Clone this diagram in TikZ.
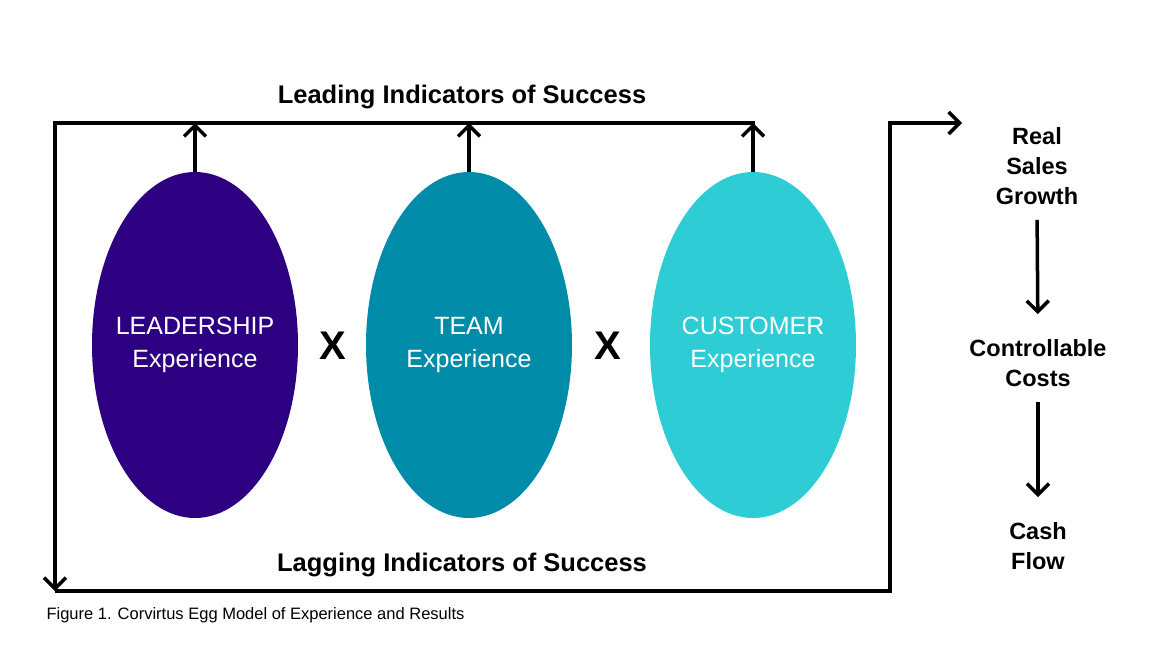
\documentclass[tikz,border=0pt]{standalone}
\usepackage{fontspec}
\setmainfont{Liberation Sans}
\usetikzlibrary{arrows.meta,shapes.geometric,positioning}

\definecolor{leadcol}{RGB}{45,0,130}
\definecolor{teamcol}{RGB}{0,140,168}
\definecolor{custcol}{RGB}{46,204,212}

\tikzset{
  egg/.style={ellipse, minimum width=206pt, minimum height=346pt, inner sep=-20pt,
    text=white, align=center, font=\fontsize{25}{33}\selectfont},
  loopline/.style={line width=3.5pt},
  flow/.style={line width=3.5pt, -{Straight Barb[length=11pt,width=22pt]}},
  result/.style={align=center, inner sep=0pt, font=\bfseries\fontsize{23.5}{30}\selectfont},
  headline/.style={font=\bfseries\fontsize{25.5}{30}\selectfont}
}

\begin{document}
\begin{tikzpicture}[x=1pt,y=-1pt]
\useasboundingbox (0,0) rectangle (1163,651);

% Eggs
\node[egg, fill=leadcol] (lead) at (195,345) {LEADERSHIP\\Experience};
\node[egg, fill=teamcol] (team) at (469,345) {TEAM\\Experience};
\node[egg, fill=custcol] (cust) at (753,345) {CUSTOMER\\Experience};

\node[font=\bfseries\fontsize{40}{40}\selectfont] (x1) at (333,346) {X};
\node[font=\bfseries\fontsize{40}{40}\selectfont] (x2) at (608,346) {X};

% Loop
\coordinate (tl) at (55,123);
\coordinate (bl) at (55,591);
\coordinate (br) at (890,591);
\coordinate (tr) at (890,123);
\coordinate (rt) at (962,123);
\draw[loopline, line cap=rect] (tl) -- (cust.north |- tl);
\draw[flow] (tl) -- (bl);
\draw[loopline] (bl) -- (br) -- (tr);
\draw[flow, line cap=rect] (tr) -- (rt);

% Leading arrows
\foreach \egg in {lead,team,cust}
  \draw[flow] (\egg.north) -- (\egg.north |- tl);

\node[headline] (leading) at (462,97) {Leading Indicators of Success};
\node[headline] (lagging) at (462,565) {Lagging Indicators of Success};

% Results
\node[result] (sales) at (1037,166) {Real\\Sales\\Growth};
\node[result] (costs) at (1038,363) {Controllable\\Costs};
\node[result] (cash) at (1038,546) {Cash\\Flow};
\draw[flow, shorten <=15pt, shorten >=25pt] (sales.south) -- (costs.north);
\draw[flow, shorten <=15pt, shorten >=25pt] (costs.south) -- (cash.north);

\node[anchor=west, font=\fontsize{16.5}{18}\selectfont] (caption) at (43,615)
  {Figure 1. Corvirtus Egg Model of Experience and Results};

\end{tikzpicture}
\end{document}
